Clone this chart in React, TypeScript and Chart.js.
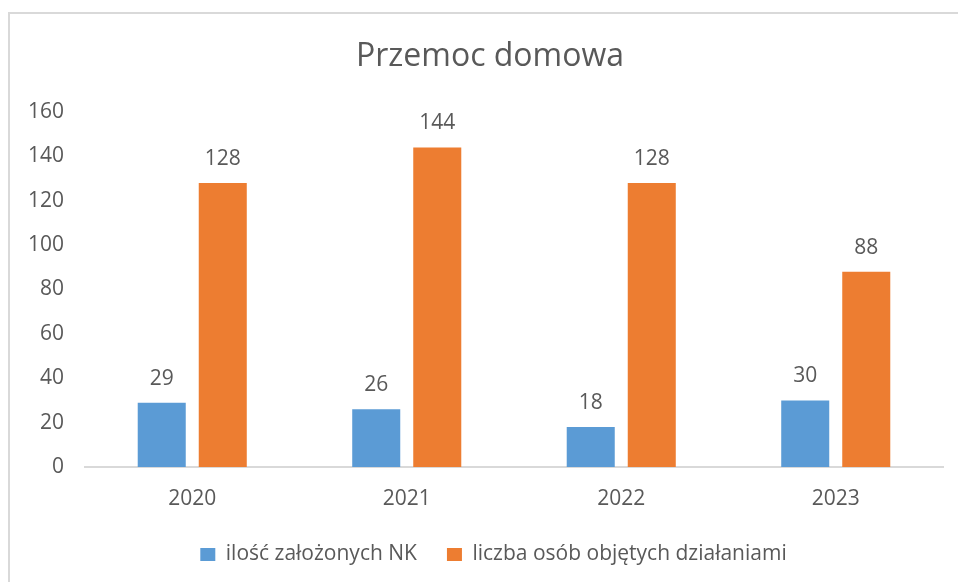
import React, { useEffect, useRef } from "react";
import { Chart, registerables } from "chart.js";

Chart.register(...registerables);

const title = "Przemoc domowa";
const categories = ["2020", "2021", "2022", "2023"];
const seriesNames = ["ilość założonych NK", "liczba osób objętych działaniami"];
const seriesNK = [29, 26, 18, 30];
const seriesOsob = [128, 144, 128, 88];
const yMin = 0;
const yMax = 160;
const yStep = 20;

const FONT = "'Open Sans', 'Noto Sans', sans-serif";
const TEXT = "#595959";

const valueLabels = {
  id: "valueLabels",
  afterDatasetsDraw(chart: any) {
    const ctx = chart.ctx;
    ctx.save();
    ctx.font = `21px ${FONT}`;
    ctx.fillStyle = TEXT;
    ctx.textAlign = "center";
    ctx.textBaseline = "middle";
    chart.data.datasets.forEach((ds: any, i: number) => {
      const meta = chart.getDatasetMeta(i);
      meta.data.forEach((bar: any, j: number) => {
        ctx.fillText(String(ds.data[j]), bar.x, bar.y - 24);
      });
    });
    ctx.restore();
  },
};

// shift the centring boxes of title and legend a little to the right
const centreShift = {
  id: "centreShift",
  afterLayout(chart: any) {
    if (chart.titleBlock) chart.titleBlock.left += 15;
    if (chart.legend) chart.legend.left += 22;
  },
};

export default function App() {
  const ref = useRef<HTMLCanvasElement | null>(null);
  useEffect(() => {
    if (!ref.current) return;
    const chart = new Chart(ref.current, {
      type: "bar",
      data: {
        labels: categories,
        datasets: [
          {
            label: seriesNames[0],
            data: seriesNK,
            backgroundColor: "#5B9BD5",
            categoryPercentage: 0.569,
            barPercentage: 0.787,
          },
          {
            label: seriesNames[1],
            data: seriesOsob,
            backgroundColor: "#ED7D31",
            categoryPercentage: 0.569,
            barPercentage: 0.787,
          },
        ],
      },
      options: {
        responsive: false,
        animation: false,
        layout: { padding: { left: 22, right: 15, top: 0, bottom: 7 } },
        plugins: {
          title: {
            display: true,
            text: title,
            color: TEXT,
            font: { family: FONT, size: 32, weight: "normal" },
            padding: { top: 38, bottom: 35.6 },
          },
          legend: {
            position: "bottom",
            labels: {
              color: TEXT,
              font: { family: FONT, size: 21 },
              boxWidth: 15,
              boxHeight: 13,
              padding: 30,
            },
          },
          tooltip: { enabled: false },
        },
        scales: {
          x: {
            grid: { display: false, drawTicks: false },
            border: { display: true, color: "#d9d9d9", width: 2 },
            ticks: { color: TEXT, font: { family: FONT, size: 21 }, padding: 19 },
            afterFit: (s: any) => {
              s.height = 47;
            },
          },
          y: {
            min: yMin,
            max: yMax,
            grid: { display: false, drawTicks: false },
            border: { display: false },
            ticks: {
              stepSize: yStep,
              color: TEXT,
              font: { family: FONT, size: 21 },
              padding: 21,
            },
            afterFit: (s: any) => {
              s.width = 63;
            },
          },
        },
      },
      plugins: [valueLabels, centreShift],
    });
    return () => chart.destroy();
  }, []);

  return (
    <div
      style={{
        position: "absolute",
        left: 0,
        top: 0,
        width: 958,
        height: 582,
        overflow: "hidden",
        background: "#fff",
      }}
    >
      <div
        style={{
          position: "absolute",
          left: 8,
          top: 12,
          width: 1000,
          height: 1000,
          border: "2px solid #d9d9d9",
        }}
      />
      <canvas
        ref={ref}
        width={958}
        height={582}
        style={{ position: "absolute", left: 0, top: 0, width: 958, height: 582 }}
      />
    </div>
  );
}
